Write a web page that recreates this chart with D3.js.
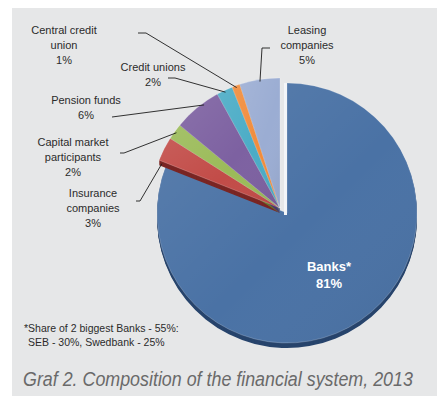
<!DOCTYPE html>
<html>
<head>
<meta charset="utf-8">
<script src="https://cdn.jsdelivr.net/npm/d3@7"></script>
<style>
  html, body { margin: 0; padding: 0; background: #ffffff; }
  svg { display: block; }
</style>
</head>
<body>
<svg id="chart" width="440" height="396"></svg>
<script>
// Composition of the financial system, 2013 (share of total assets, %)
const categories = ["Banks*", "Insurance companies", "Capital market participants",
                    "Pension funds", "Credit unions", "Central credit union", "Leasing companies"];
const shares = [81, 3, 2, 6, 2, 1, 5];
const labelLines = [
  ["Banks*", "81%"],
  ["Insurance", "companies", "3%"],
  ["Capital market", "participants", "2%"],
  ["Pension funds", "6%"],
  ["Credit unions", "2%"],
  ["Central credit", "union", "1%"],
  ["Leasing", "companies", "5%"]
];
const sliceColors = ["#4a72a5", "#c24c48", "#9bbb59", "#7d61a1", "#4bacc6", "#f08c3c", "#9badd3"];
const sideColors  = ["#27446c", "#7a2624", "#5f7a2c", "#4c3670", "#2a7186", "#a85a1c", "#5f6f96"];
const footnote = ["*Share of 2 biggest Banks - 55%:", "SEB - 30%, Swedbank  - 25%"];
const title = "Graf 2. Composition of the financial system, 2013";

// ---- layout ----
const svg = d3.select("#chart");
const R = 130, depth = 5;
const center = [287, 213];
const explode = [-7, -5];          // all slices except banks are pulled out together

// label placement: centre x, first baseline, leader start/elbow, anchor position inside slice
const labelLayout = [
  { x: 329, y: 271, lh: 17 },
  { x: 93,  y: 197, lh: 15, lead: [[136, 201], [140, 201]], t: 0.1,  dy: 5 },
  { x: 73,  y: 146, lh: 15, lead: [[120, 153], [124, 153]], t: 0.5,  dy: 0 },
  { x: 86,  y: 104, lh: 15, lead: [[112, 117]],             t: 0.65, dy: 0 },
  { x: 153, y: 71,  lh: 15, lead: [[168, 78],  [175, 78]],  t: 0.5,  dy: 0 },
  { x: 64,  y: 34,  lh: 15, lead: [[138, 33],  [146, 33]],  t: 0.5,  dy: 0 },
  { x: 307, y: 34,  lh: 15, lead: [[270, 48],  [262, 48]],  t: 0.5,  dy: 0 }
];

// panel background
svg.append("rect").attr("x", 12).attr("y", 8).attr("width", 425).attr("height", 388)
  .attr("fill", "#e6e7e8");

const defs = svg.append("defs");
const shade = defs.append("linearGradient").attr("id", "shade")
  .attr("x1", "0").attr("y1", "0").attr("x2", "1").attr("y2", "1");
shade.append("stop").attr("offset", "0%").attr("stop-color", "#ffffff").attr("stop-opacity", 0.10);
shade.append("stop").attr("offset", "55%").attr("stop-color", "#ffffff").attr("stop-opacity", 0);
shade.append("stop").attr("offset", "100%").attr("stop-color", "#000000").attr("stop-opacity", 0.06);

const pie = d3.pie().sort(null).value(d => d)(shares);
const arc = d3.arc().innerRadius(0).outerRadius(R);

const offsetOf = i => i === 0 ? [0, 0] : explode;

// draws one piece (side extrusion + top face) for the given slice indices
function drawPiece(indices) {
  const g = svg.append("g");
  indices.forEach(i => {
    const [ox, oy] = offsetOf(i);
    for (let k = depth; k >= 1; k--) {
      g.append("path")
        .attr("d", arc(pie[i]))
        .attr("transform", `translate(${center[0] + ox},${center[1] + oy + k})`)
        .attr("fill", sideColors[i]);
    }
  });
  indices.forEach(i => {
    const [ox, oy] = offsetOf(i);
    g.append("path")
      .attr("d", arc(pie[i]))
      .attr("transform", `translate(${center[0] + ox},${center[1] + oy})`)
      .attr("fill", sliceColors[i]);
    g.append("path")
      .attr("d", arc(pie[i]))
      .attr("transform", `translate(${center[0] + ox},${center[1] + oy})`)
      .attr("fill", "url(#shade)")
      .attr("stroke", "rgba(255,255,255,0.35)")
      .attr("stroke-width", 0.6);
  });
  return g;
}

// banks piece with a light bevel along its straight left edge
drawPiece([0]);
svg.append("line")
  .attr("x1", center[0] - 1.5).attr("y1", center[1] - R)
  .attr("x2", center[0] - 1.5).attr("y2", center[1] + 2)
  .attr("stroke", "#f3f5f8").attr("stroke-width", 3);

// the remaining segments, pulled out as one block
drawPiece(d3.range(1, shares.length));

// leader lines from the outer labels to their segments
const line = d3.line();
labelLayout.forEach((L, i) => {
  if (!L.lead) return;
  const p = pie[i];
  const a = p.startAngle + (p.endAngle - p.startAngle) * L.t;
  const [ox, oy] = offsetOf(i);
  const rr = R - 2;
  const anchor = [center[0] + ox + rr * Math.sin(a), center[1] + oy - rr * Math.cos(a) + L.dy];
  svg.append("path")
    .attr("d", line([...L.lead, anchor]))
    .attr("fill", "none")
    .attr("stroke", "#1c1c1c")
    .attr("stroke-width", 0.9);
});

// slice labels
labelLayout.forEach((L, i) => {
  const inside = i === 0;
  const t = svg.append("text")
    .attr("text-anchor", "middle")
    .attr("font-family", "'Liberation Sans', Arial, sans-serif")
    .attr("font-size", inside ? 13 : 11)
    .attr("font-weight", inside ? "bold" : "normal")
    .attr("fill", inside ? "#ffffff" : "#2b2b2b");
  labelLines[i].forEach((s, j) => {
    t.append("tspan").attr("x", L.x).attr("y", L.y + j * L.lh).text(s);
  });
});

// footnote
const fn = svg.append("text")
  .attr("font-family", "'Liberation Sans', Arial, sans-serif")
  .attr("font-size", 10.5)
  .attr("fill", "#2b2b2b");
fn.append("tspan").attr("x", 24).attr("y", 332).text(footnote[0]);
fn.append("tspan").attr("x", 28).attr("y", 346).text(footnote[1]);

// caption: a condensed italic line, squeezed horizontally to its column width
const titleWidth = 390;
const cap = svg.append("g");
const capText = cap.append("text")
  .attr("x", 0).attr("y", 0)
  .attr("font-family", "'Liberation Sans Narrow', 'Liberation Sans', Arial, sans-serif")
  .attr("font-style", "italic")
  .attr("font-size", 19.5)
  .attr("fill", "#6a6a6a")
  .text(title);
const natural = capText.node().getComputedTextLength();
cap.attr("transform", `translate(23,386) scale(${titleWidth / natural},1)`);
</script>
</body>
</html>
